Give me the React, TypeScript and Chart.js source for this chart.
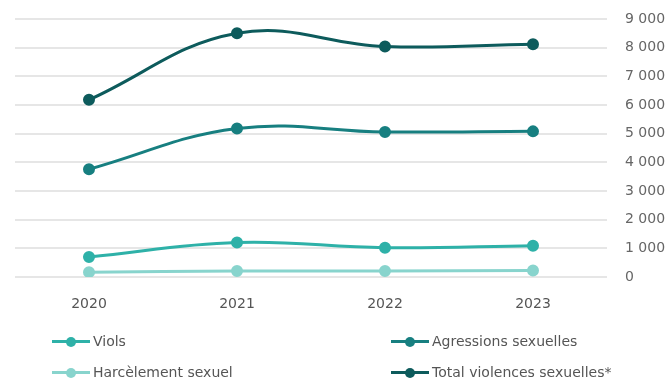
import React, { useEffect, useRef } from "react";
import { Chart, registerables } from "chart.js";

Chart.register(...registerables);

const years = ["2020", "2021", "2022", "2023"];
const viols = [700, 1200, 1020, 1090];
const agressions = [3760, 5180, 5060, 5080];
const harcelement = [170, 210, 210, 225];
const total = [6180, 8500, 8040, 8120];
const yTicks = [0, 1000, 2000, 3000, 4000, 5000, 6000, 7000, 8000, 9000];

const series = [
  { label: "Viols", data: viols, color: "#2eb1a8" },
  { label: "Agressions sexuelles", data: agressions, color: "#177f80" },
  { label: "Harcèlement sexuel", data: harcelement, color: "#88d4cd" },
  { label: "Total violences sexuelles*", data: total, color: "#0d5b5c" },
];

const FONT = "'DejaVu Sans', sans-serif";

function Marker({ color }: { color: string }) {
  return (
    <span style={{ position: "relative", display: "inline-block", width: 38, height: 12, marginRight: 3 }}>
      <span style={{ position: "absolute", left: 0, right: 0, top: 5, height: 3, background: color }} />
      <span style={{ position: "absolute", left: 14, top: 1.5, width: 10, height: 10, borderRadius: "50%", background: color }} />
    </span>
  );
}

export default function App() {
  const ref = useRef<HTMLCanvasElement | null>(null);

  useEffect(() => {
    document.body.style.margin = "0";
    const chart = new Chart(ref.current!, {
      type: "line",
      data: {
        labels: years,
        datasets: series.map((s) => ({
          label: s.label,
          data: s.data,
          borderColor: s.color,
          backgroundColor: s.color,
          pointBackgroundColor: s.color,
          pointBorderColor: s.color,
          borderWidth: 3,
          pointRadius: 4.5,
          tension: 0.4,
          fill: false,
        })),
      },
      options: {
        animation: false,
        responsive: false,
        devicePixelRatio: 1,
        layout: { padding: { top: 19, left: 15, right: 0, bottom: 71 } },
        plugins: { legend: { display: false }, tooltip: { enabled: false } },
        scales: {
          x: {
            offset: true,
            grid: { display: false, drawTicks: false },
            border: { display: false },
            ticks: { padding: 19, color: "#555", font: { family: FONT, size: 14 } },
            afterFit: (s: any) => { s.height = 34; s.paddingLeft = 0; s.paddingRight = 0; },
          },
          y: {
            position: "right",
            min: 0,
            max: 9000,
            afterBuildTicks: (s: any) => { s.ticks = yTicks.map((v) => ({ value: v })); },
            grid: { color: "#e6e6e6", lineWidth: 2, drawTicks: false },
            border: { display: false },
            ticks: {
              padding: 18,
              color: "#666",
              font: { family: FONT, size: 14 },
              callback: (v: any) => {
                const n = Number(v);
                return n >= 1000 ? Math.floor(n / 1000) + " " + String(n % 1000).padStart(3, "0") : String(n);
              },
            },
            afterFit: (s: any) => { s.width = 64; s.paddingTop = 0; s.paddingBottom = 0; },
          },
        },
      },
    });
    return () => chart.destroy();
  }, []);

  const legendPos = [
    { left: 52, top: 341 },
    { left: 391, top: 341 },
    { left: 52, top: 372 },
    { left: 391, top: 372 },
  ];

  return (
    <div style={{ position: "relative", width: 671, height: 382, background: "#fff", overflow: "hidden" }}>
      <canvas ref={ref} width={671} height={382} style={{ display: "block" }} />
      {series.map((s, i) => (
        <div
          key={s.label}
          style={{
            position: "absolute",
            left: legendPos[i].left,
            top: legendPos[i].top - 10,
            height: 20,
            display: "flex",
            alignItems: "center",
            fontFamily: FONT,
            fontSize: 14,
            color: "#555",
            whiteSpace: "nowrap",
          }}
        >
          <Marker color={s.color} />
          <span>{s.label}</span>
        </div>
      ))}
    </div>
  );
}
